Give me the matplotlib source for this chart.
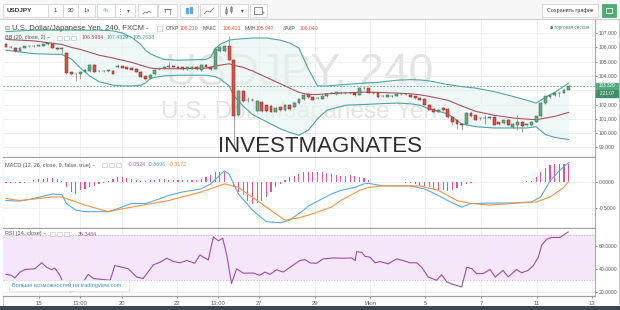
import matplotlib
matplotlib.use('Agg')
import matplotlib.pyplot as plt
from matplotlib.patches import Rectangle
import numpy as np

plt.rcParams['font.family'] = ['Liberation Sans', 'DejaVu Sans']

# ---------------- data ----------------
opens = [
    106.22, 106.04, 105.98, 105.74, 105.95, 106.06, 106.08, 106.10, 106.12, 106.22,
    106.26, 105.98, 105.86, 105.62, 104.26, 104.10, 104.12, 104.30, 104.32, 104.75,
    104.32, 104.34, 104.36, 104.37, 104.62, 104.66, 104.60, 104.55, 104.50, 104.30,
    103.98, 103.84, 104.10, 104.48, 104.55, 104.60, 104.66, 104.65, 104.60, 104.45,
    104.50, 104.62, 104.40, 104.75, 104.60, 104.50, 105.72, 105.76, 106.07, 105.10,
    101.30, 102.97, 102.30, 102.32, 101.55, 102.20, 101.95, 101.90, 101.50, 101.80,
    101.60, 102.00, 101.85, 102.10, 102.38, 102.72, 102.55, 102.44, 102.40, 102.60,
    102.78, 102.75, 102.82, 102.80, 102.81, 102.82, 102.70, 103.16, 103.15, 102.82,
    102.80, 102.60, 102.55, 102.62, 102.62, 102.72, 102.72, 102.70, 102.58, 102.45,
    102.40, 102.00, 101.70, 101.50, 101.75, 101.72, 101.15, 100.95, 100.62, 100.65,
    101.40, 101.25, 101.04, 101.05, 101.05, 101.15, 100.75, 100.70, 100.92, 100.40,
    100.55, 100.78, 100.58, 100.55, 100.80, 101.17, 102.10, 102.50, 102.68, 102.78,
    102.82, 103.05]
highs = [
    106.30, 106.10, 106.02, 106.00, 106.10, 106.12, 106.16, 106.18, 106.30, 106.32,
    106.30, 106.02, 106.00, 105.68, 104.32, 104.20, 104.35, 104.45, 104.80, 104.80,
    104.40, 104.40, 104.42, 104.40, 104.85, 104.72, 104.65, 104.60, 104.52, 104.35,
    104.02, 104.12, 104.45, 104.65, 104.68, 105.00, 104.72, 104.70, 104.65, 104.65,
    104.68, 104.66, 104.80, 104.82, 104.65, 106.00, 106.05, 106.15, 106.80, 105.15,
    103.05, 103.02, 102.55, 102.45, 102.35, 102.28, 102.00, 101.95, 101.80, 101.85,
    102.05, 102.05, 102.15, 102.42, 102.72, 102.80, 102.60, 102.52, 102.65, 102.80,
    102.88, 102.90, 102.88, 102.86, 102.86, 102.86, 103.25, 103.22, 103.18, 102.88,
    102.84, 102.68, 102.75, 102.66, 102.80, 102.78, 102.78, 102.74, 102.62, 102.50,
    102.45, 102.05, 101.75, 101.68, 101.80, 101.78, 101.20, 101.00, 100.70, 101.45,
    101.45, 101.30, 101.15, 101.30, 101.20, 101.20, 100.80, 100.95, 100.96, 100.68,
    101.30, 100.82, 100.66, 100.82, 101.22, 102.15, 102.62, 102.75, 102.86, 102.90,
    103.10, 103.38]
lows = [
    106.00, 105.95, 105.66, 105.70, 105.92, 106.02, 106.04, 106.06, 106.08, 106.18,
    105.95, 105.84, 105.60, 104.12, 104.05, 103.62, 103.75, 104.25, 104.28, 104.25,
    104.28, 104.28, 104.30, 104.12, 104.55, 104.55, 104.45, 104.38, 104.28, 103.90,
    103.70, 103.80, 104.05, 104.40, 104.50, 104.55, 104.60, 104.50, 104.40, 104.40,
    104.45, 104.40, 104.35, 104.55, 104.40, 104.45, 105.65, 105.70, 105.10, 99.00,
    101.20, 102.15, 102.20, 102.22, 101.45, 101.50, 101.50, 101.45, 101.45, 101.55,
    101.55, 101.65, 101.80, 102.05, 102.34, 102.45, 102.30, 102.38, 102.36, 102.55,
    102.72, 102.70, 102.76, 102.75, 102.76, 102.62, 102.66, 103.08, 102.78, 102.74,
    102.46, 102.55, 102.50, 102.56, 102.58, 102.66, 102.67, 102.50, 102.40, 102.30,
    101.95, 101.60, 101.45, 101.45, 101.55, 101.05, 100.60, 100.30, 100.20, 100.60,
    101.15, 100.90, 100.90, 100.65, 101.00, 100.55, 100.58, 100.65, 100.55, 100.35,
    100.24, 100.10, 100.52, 100.50, 100.76, 101.12, 102.05, 102.45, 102.62, 102.50,
    102.78, 103.00]
closes = [
    106.05, 106.00, 105.72, 105.96, 106.06, 106.07, 106.10, 106.12, 106.26, 106.28,
    105.98, 105.88, 105.95, 104.20, 104.10, 104.13, 104.30, 104.40, 104.75, 104.30,
    104.34, 104.36, 104.37, 104.15, 104.66, 104.58, 104.50, 104.42, 104.30, 103.95,
    103.80, 104.08, 104.40, 104.50, 104.62, 104.70, 104.65, 104.55, 104.45, 104.60,
    104.62, 104.45, 104.75, 104.60, 104.45, 105.90, 106.00, 106.10, 105.14, 101.20,
    102.97, 102.22, 102.34, 102.30, 102.25, 101.55, 101.55, 101.50, 101.75, 101.60,
    102.00, 101.70, 102.10, 102.38, 102.68, 102.50, 102.35, 102.46, 102.60, 102.75,
    102.80, 102.85, 102.80, 102.81, 102.79, 102.68, 103.18, 103.14, 102.82, 102.80,
    102.50, 102.62, 102.70, 102.60, 102.75, 102.73, 102.71, 102.55, 102.45, 102.35,
    102.00, 101.65, 101.50, 101.62, 101.60, 101.10, 100.80, 100.65, 100.58, 101.40,
    101.20, 100.95, 101.06, 101.04, 101.15, 100.60, 100.64, 100.90, 100.60, 100.64,
    100.78, 100.47, 100.60, 100.78, 101.17, 102.10, 102.57, 102.70, 102.82, 102.82,
    103.05, 103.32]

# Bollinger bands (20, close, 2), read at bar indices
bb_idx = [0, 6, 12, 14, 16, 18, 20, 23, 25, 27, 29, 30, 31, 32, 34, 37, 43, 44, 45, 46,
          48, 49, 51, 53, 56, 59, 61, 63, 65, 67, 69, 73, 77, 80, 84, 87, 89, 91, 95, 98,
          101, 105, 109, 112, 114, 116, 118, 121]
bb_upper = [107.10, 107.20, 107.20, 107.20, 107.20, 107.20, 107.20, 107.15, 107.00, 106.70,
            106.20, 105.80, 105.55, 105.40, 105.15, 105.10, 105.15, 105.30, 105.90, 106.20,
            106.50, 106.55, 106.60, 106.65, 106.65, 106.50, 106.30, 105.95, 104.50, 103.30,
            103.30, 103.40, 103.50, 103.55, 103.70, 103.74, 103.72, 103.65, 103.40, 103.25,
            103.15, 102.90, 102.57, 102.30, 102.10, 102.50, 102.85, 103.50]
bb_mid = [106.55, 106.45, 106.20, 106.00, 105.85, 105.65, 105.45, 105.25, 105.10, 104.95,
          104.75, 104.65, 104.55, 104.52, 104.50, 104.50, 104.55, 104.60, 104.70, 104.75,
          104.85, 104.75, 104.60, 104.35, 103.90, 103.45, 103.15, 102.85, 102.70, 102.70,
          102.75, 102.82, 102.87, 102.85, 102.80, 102.75, 102.68, 102.57, 102.30, 101.90,
          101.52, 101.25, 101.06, 100.98, 100.94, 101.05, 101.17, 101.45]
bb_lower = [105.80, 105.55, 105.50, 105.20, 104.55, 104.00, 103.60, 103.35, 103.30, 103.30,
            103.35, 103.50, 103.80, 103.90, 104.00, 104.05, 104.05, 104.00, 103.95, 103.80,
            103.30, 102.60, 101.90, 101.30, 100.80, 100.30, 100.05, 99.85, 100.20, 101.00,
            101.60, 101.95, 102.00, 102.05, 102.10, 102.05, 101.95, 101.70, 101.35, 100.65,
            100.45, 100.36, 100.36, 100.36, 100.45, 99.90, 99.70, 99.55]

# MACD (12, 26, close, 9)
macd_idx = [0, 3, 6, 10, 12, 13, 15, 17, 22, 24, 27, 30, 32, 35, 38, 42, 44, 47, 48, 50,
            53, 56, 59, 61, 64, 65, 70, 72, 75, 77, 78, 81, 87, 90, 93, 95, 98, 100, 104, 108,
            113, 115, 117, 119, 121]
macd_line = [-0.36, -0.37, -0.32, -0.23, -0.24, -0.42, -0.55, -0.58, -0.58, -0.52,
             -0.42, -0.42, -0.36, -0.26, -0.19, -0.13, -0.03, 0.23, 0.16, -0.23,
             -0.55, -0.78, -0.80, -0.75, -0.55, -0.47, -0.23, -0.16, -0.10, -0.03,
             -0.02, -0.07, -0.07, -0.13, -0.26, -0.36, -0.49, -0.42, -0.41, -0.41,
             -0.39, -0.29, 0.03, 0.23, 0.39]
sig_idx = [0, 3, 10, 12, 17, 22, 27, 35, 42, 47, 50, 56, 60, 63, 65, 70, 72, 76, 78, 81,
           89, 93, 97, 100, 104, 110, 114, 117, 120, 121]
sig_line = [-0.32, -0.36, -0.29, -0.29, -0.45, -0.58, -0.49, -0.36, -0.19, -0.03,
            -0.10, -0.49, -0.75, -0.70, -0.65, -0.49, -0.36, -0.16, -0.10, -0.07,
            -0.07, -0.16, -0.36, -0.42, -0.45, -0.41, -0.39, -0.29, -0.10, 0.02]
macd_hist = [
    -0.015, -0.015, -0.015, -0.015, -0.015, 0.01, 0.04, 0.06, 0.07, 0.08,
    0.08, 0.06, 0.02, -0.10, -0.20, -0.23, -0.16, -0.13, -0.10, -0.065,
    -0.03, -0.01, 0.03, 0.065, 0.10, 0.10, 0.085, 0.065, 0.045, 0.03,
    0.03, 0.04, 0.05, 0.06, 0.06, 0.05, 0.05, 0.05, 0.04, 0.05,
    0.05, 0.05, 0.06, 0.10, 0.15, 0.20, 0.21, 0.20, 0.0, -0.10,
    -0.20, -0.26, -0.36, -0.42, -0.41, -0.36, -0.29, -0.20, -0.10, -0.03,
    0.045, 0.10, 0.13, 0.16, 0.20, 0.20, 0.20, 0.20, 0.20, 0.18,
    0.16, 0.15, 0.13, 0.13, 0.15, 0.13, 0.11, 0.085, 0.045, 0.01,
    0.005, 0.005, 0.005, 0.005, 0.005, 0.0, -0.005, -0.01, -0.03, -0.05,
    -0.065, -0.10, -0.13, -0.15, -0.16, -0.18, -0.15, -0.11, -0.065, -0.03,
    -0.013, 0.01, 0.005, 0.01, 0.005, 0.01, 0.005, 0.01, 0.005, 0.01,
    0.005, 0.01, 0.02, 0.03, 0.10, 0.20, 0.29, 0.35, 0.37, 0.37,
    0.37, 0.36]

# RSI (14, close)
rsi_idx = [0, 1.2, 1.9, 3, 4.1, 6.2, 7.7, 8.7, 9.8, 10.5, 11.6, 12.7, 13.8, 14.8, 16.6,
           17.7, 18.8, 22.4, 23.4, 26.3, 28.1, 29.5, 31.7, 33.1, 34.6, 36, 37.4, 38.9,
           40.6, 41.7, 43.5, 44.6, 45.7, 46.6, 47.5, 48.5, 49.6, 51, 53.2, 54.6, 55.7,
           56.8, 58.2, 59.6, 61.1, 63.2, 64.3, 65.4, 66.8, 68.2, 70.4, 72.5, 74.3, 75.1,
           75.4, 76.5, 77.2, 78.3, 79.4, 80.4, 82.2, 84, 85.4, 86.9, 88.3, 89.4, 90.8,
           92.6, 93.7, 94.8, 96.2, 98, 99.1, 100.2, 101.2, 102.6, 104.1, 105.2, 106.9,
           108, 109.8, 110.9, 112.3, 113.4, 114.5, 115.2, 116.3, 117.3, 119.1, 120.9]
rsi_vals = [35.4, 34.5, 32.2, 37.4, 39.7, 40.3, 45.6, 41.7, 39.5, 40.9, 34.5, 24.4, 20.0,
            20.9, 28.7, 35.4, 31.7, 30.2, 43.2, 40.3, 33.1, 31.7, 43.8, 46.1, 49.6, 46.7,
            45.6, 47.6, 45.2, 52.5, 48.1, 68.4, 65.0, 67.3, 51.9, 27.3, 40.3, 36.5, 36.5,
            34.5, 37.4, 35.4, 39.5, 37.4, 41.7, 47.6, 48.4, 45.5, 45.2, 49.0, 49.9, 49.6,
            49.9, 47.6, 55.4, 54.8, 51.3, 50.5, 45.6, 46.7, 44.7, 49.0, 47.6, 45.6, 45.6,
            41.7, 33.1, 30.2, 35.1, 28.7, 26.4, 24.4, 41.7, 40.3, 36.0, 36.0, 39.7, 33.1,
            38.9, 33.1, 39.7, 36.8, 38.9, 43.2, 50.5, 61.2, 66.4, 67.9, 67.9, 72.8]

# time axis labels (positions in bar units)
date_pos = [7.1, 15.9, 24.9, 36.8, 45.6, 54.4, 66.5, 78.3, 90.1, 102.2, 114.2, 126.0]
date_lbl = ['15', '13:00', '20', '22', '13:00', '27', '29', 'Июл', '5', '7', '11', '13']
price_ticks = [99, 100, 101, 102, 103, 104, 105, 106, 107]
last_price = 103.32

# ---------------- figure ----------------
W, H = 620, 310
fig = plt.figure(figsize=(6.2, 3.1), dpi=100)
fig.patch.set_facecolor('#ffffff')


def rect(x0, y0, x1, y1):
    return [x0 / W, 1 - y1 / H, (x1 - x0) / W, (y1 - y0) / H]


bg = fig.add_axes([0, 0, 1, 1], zorder=0)
bg.set_xlim(0, W); bg.set_ylim(H, 0); bg.axis('off')
bg.add_patch(Rectangle((0, 0), W, 19, color='#f7f7f7', lw=0))
bg.plot([0, W], [19.3, 19.3], color='#cfcfcf', lw=0.8)
bg.add_patch(Rectangle((0, 305.5), W, 5, color='#3d4653', lw=0))
bg.plot([2.5, 2.5], [19, 305], color='#c8c8c8', lw=0.8)
bg.plot([618.5, 618.5], [19, 305], color='#c8c8c8', lw=0.8)

XL = (-0.645, 126.67)
GRID = '#ececec'
AXC = '#a9a9a9'
LBL = '#5c5c5c'


def style_pane(a, yticks, labels, fs=3.7):
    a.set_xlim(*XL)
    a.set_facecolor('white')
    for s in ['top', 'left']:
        a.spines[s].set_visible(False)
    a.spines['right'].set_color(AXC); a.spines['right'].set_linewidth(0.8)
    a.spines['bottom'].set_color('#a0a0a0'); a.spines['bottom'].set_linewidth(0.9)
    a.yaxis.tick_right()
    a.set_yticks(yticks)
    a.set_yticklabels(labels)
    a.tick_params(axis='y', labelsize=fs, colors=LBL, length=1.5, width=0.5, pad=1.2)
    a.set_xticks(date_pos)
    a.tick_params(axis='x', length=0, labelbottom=False)
    a.grid(True, color=GRID, lw=0.6)
    a.set_axisbelow(True)


# ---- main price pane (the 103 label is covered by the last-price tag)
ax = fig.add_axes(rect(3, 20, 595, 157), zorder=2)
style_pane(ax, price_ticks,
           ['' if abs(v - last_price) < 0.5 else '%.3f' % v for v in price_ticks])
ax.set_ylim(98.33, 107.91)

ax.text(0.5, 0.615, 'USDJPY, 240', transform=ax.transAxes, ha='center', va='center',
        fontsize=32, color='#e3e3e3', zorder=0.5)
ax.text(0.5, 0.33, 'U.S. Dollar/Japanese Yen', transform=ax.transAxes, ha='center',
        va='center', fontsize=17.5, color='#e3e3e3', zorder=0.5)

ax.fill_between(bb_idx, bb_lower, bb_upper, color='#e6f3f5', alpha=0.6, lw=0, zorder=1)
ax.plot(bb_idx, bb_upper, color='#4ea5a2', lw=0.8, zorder=2)
ax.plot(bb_idx, bb_lower, color='#4ea5a2', lw=0.8, zorder=2)
ax.plot(bb_idx, bb_mid, color='#a8545c', lw=0.8, zorder=2)

o = np.array(opens); c = np.array(closes)
hi = np.array(highs); lo = np.array(lows)
x = np.arange(len(o))
up = c >= o
bot = np.minimum(o, c)
hgt = np.maximum(np.abs(c - o), 0.03)
ax.vlines(x, lo, hi, color='#8a8a8a', lw=0.55, zorder=3)
ax.bar(x[up], hgt[up], bottom=bot[up], width=0.62, color='#6ba583',
       edgecolor='#2f6e4a', lw=0.35, zorder=4)
ax.bar(x[~up], hgt[~up], bottom=bot[~up], width=0.62, color='#d75442',
       edgecolor='#80281e', lw=0.35, zorder=4)
ax.axhline(last_price, color='#5aa78a', lw=0.6, ls=(0, (2, 2)), zorder=2.5)

# ---- MACD pane
am = fig.add_axes(rect(3, 158, 595, 228), zorder=2)
style_pane(am, [-0.5, 0.0], ['%.4f' % v for v in [-0.5, 0.0]])
am.set_ylim(-0.904, 0.482)
am.bar(x, macd_hist, width=0.24, color='#e0549a', lw=0, zorder=2)
am.plot(macd_idx, macd_line, color='#5aaae6', lw=0.8, zorder=3)
am.plot(sig_idx, sig_line, color='#f29343', lw=0.8, zorder=3)

# ---- RSI pane
ar = fig.add_axes(rect(3, 229, 595, 296), zorder=2)
style_pane(ar, [20, 40, 60], ['%.4f' % v for v in [20, 40, 60]])
ar.set_ylim(16.3, 75.4)
ar.axhspan(30, 70, color='#f5e6fc', lw=0, zorder=0.3)
ar.axhline(70, color='#b9b2bd', lw=0.5, ls=(0, (2, 2)), zorder=1)
ar.axhline(30, color='#b9b2bd', lw=0.5, ls=(0, (2, 2)), zorder=1)
ar.plot(rsi_idx, rsi_vals, color='#9c4f9e', lw=0.8, zorder=3)
ar.set_xticklabels(date_lbl)
ar.tick_params(axis='x', labelbottom=True, labelsize=4.2, colors=LBL, length=1.5,
               width=0.5, pad=2)

# ---------------- overlay (pixel coordinates) ----------------
ov = fig.add_axes([0, 0, 1, 1], zorder=10)
ov.set_xlim(0, W); ov.set_ylim(H, 0); ov.axis('off'); ov.patch.set_alpha(0)


def box(x0, y0, x1, y1, fc='white', ec='#d4d4d4', lw=0.6):
    ov.add_patch(Rectangle((x0, y0), x1 - x0, y1 - y0, facecolor=fc, edgecolor=ec, lw=lw))


# toolbar
box(3, 4, 48, 17)
ov.text(7, 10.7, 'USDJPY', fontsize=4.6, color='#333333', va='center', fontweight='bold')
for (x0, x1, t, col) in [(48, 63, '1', '#444'), (63, 78, '30', '#444'),
                         (78, 95, '1ч', '#444'), (97, 115, '4ч', '#6aaee0')]:
    box(x0, 4, x1, 17)
    ov.text((x0 + x1) / 2, 10.7, t, fontsize=4.2, color=col, ha='center', va='center')
box(115, 4, 135, 17)
ov.text(120, 10.7, '⋮', fontsize=5, color='#555', ha='center', va='center',
        family='DejaVu Sans')
ov.text(128.5, 10.7, '▾', fontsize=4, color='#555', ha='center', va='center',
        family='DejaVu Sans')
for (x0, x1) in [(138, 157), (158, 177), (180, 198), (200, 218), (220, 248), (250, 267)]:
    box(x0, 4, x1, 17)
# small icon strokes
ov.plot([143, 145, 147, 149, 151], [14, 12, 13, 11, 12.5], color='#666', lw=0.5)
ov.plot([164, 171], [9, 9], color='#666', lw=0.5)
ov.plot([165, 165, 170, 170], [12, 9, 9, 14], color='#666', lw=0.5)
ov.add_patch(Rectangle((186, 7.5), 1.6, 5, color='#5ea6dc'))
ov.add_patch(Rectangle((190, 6.5), 1.6, 6, color='#5ea6dc'))
ov.plot([204, 207, 210, 214], [14, 11, 12, 8], color='#666', lw=0.5)
ov.plot([226, 226], [7, 14], color='#666', lw=0.5)
ov.add_patch(Rectangle((225, 8.5), 2, 4, facecolor='white', edgecolor='#666', lw=0.4))
ov.plot([231, 231], [6, 13], color='#666', lw=0.5)
ov.add_patch(Rectangle((230, 7), 2, 4, facecolor='white', edgecolor='#666', lw=0.4))
ov.text(242, 10.7, '▾', fontsize=4, color='#555', ha='center', va='center',
        family='DejaVu Sans')
ov.add_patch(Rectangle((254, 7), 8, 7, facecolor='none', edgecolor='#666', lw=0.5))
ov.text(263, 13, '+', fontsize=4, color='#555', ha='center', va='center')
box(542, 4, 598, 17)
ov.text(570, 10.7, 'Сохранить график', fontsize=3.9, color='#333', ha='center', va='center')
box(602, 4, 616, 17, fc='#4cae6e', ec='#4cae6e')
ov.add_patch(Rectangle((606, 8), 6, 5, facecolor='none', edgecolor='white', lw=0.6))

# main legend
ov.text(4.5, 28, '⊟', fontsize=4.5, color='#777', va='center', family='DejaVu Sans')
ov.text(12, 28, 'U.S. Dollar/Japanese Yen, 240, FXCM -', fontsize=5.6, color='#4a4a4a',
        va='center')
ov.add_patch(Rectangle((157, 25.5), 5, 5, facecolor='white', edgecolor='#bbbbbb', lw=0.4))
leg = [(166, 'ОТКР', '#555'), (180, '106.219', '#e0513f'), (203, 'МАКС', '#555'),
       (223, '106.421', '#e0513f'), (245, 'МИН', '#555'), (256, '105.947', '#e0513f'),
       (283, 'ЗАКР', '#555'), (300, '106.040', '#e0513f')]
for (xx, t, col) in leg:
    ov.text(xx, 28, t, fontsize=3.7, color=col, va='center')
ov.text(5, 37.8, 'BB (20, close, 2) ~', fontsize=4.0, color='#555', va='center')
for xx in (57, 64, 71):
    ov.add_patch(Rectangle((xx, 35.5), 4.5, 4.5, facecolor='white', edgecolor='#bbbbbb',
                           lw=0.4))
ov.text(82, 37.8, '106.5984', fontsize=3.8, color='#a8545c', va='center')
ov.text(107, 37.8, '107.4329', fontsize=3.8, color='#3e9d98', va='center')
ov.text(133, 37.8, '105.7638', fontsize=3.8, color='#3e9d98', va='center')
ov.text(551, 27.8, '●', fontsize=2.6, color='#3d8c5c', va='center', ha='center',
        family='DejaVu Sans')
ov.text(554, 27.8, 'торговая сессия', fontsize=3.3, color='#3d8c5c', va='center')

# last price labels
ov.add_patch(Rectangle((596, 82.5), 22, 6.8, color='#55a880'))
ov.text(607, 85.9, '103.320', fontsize=3.3, color='white', ha='center', va='center')
ov.add_patch(Rectangle((596, 89.8), 22, 6.8, color='#3f8f69'))
ov.text(607, 93.4, '2:21:07', fontsize=3.3, color='white', ha='center', va='center')

# MACD legend
ov.text(5, 165, 'MACD (12, 26, close, 9, false, true) ~', fontsize=4.0, color='#555',
        va='center')
for xx in (102, 109, 116):
    ov.add_patch(Rectangle((xx, 162.7), 4.5, 4.5, facecolor='white', edgecolor='#bbbbbb',
                           lw=0.4))
ov.text(128, 165, '-0.0524', fontsize=3.8, color='#e0549a', va='center')
ov.text(148, 165, '-0.3696', fontsize=3.8, color='#4a9fe0', va='center')
ov.text(169, 165, '-0.3172', fontsize=3.8, color='#f08a35', va='center')

# RSI legend
ov.text(5, 234, 'RSI (14, close) ~', fontsize=4.0, color='#555', va='center')
for xx in (50, 57, 64):
    ov.add_patch(Rectangle((xx, 231.7), 4.5, 4.5, facecolor='white', edgecolor='#bbbbbb',
                           lw=0.4))
ov.text(78, 234, '35.3464', fontsize=3.8, color='#9c4f9e', va='center')

# tradingview promo box
ov.add_patch(Rectangle((9, 280), 120, 11, facecolor='white', edgecolor='#e3e3e3', lw=0.5))
ov.text(12, 285.7, 'Больше возможностей на tradingview.com', fontsize=4.1,
        color='#3b8fd0', va='center')

# watermark
ov.text(320, 147, 'INVESTMAGNATES', fontsize=16, color='#2e2e2e', ha='center',
        va='center')

fig.savefig('out.png', dpi=100, facecolor=fig.get_facecolor())
